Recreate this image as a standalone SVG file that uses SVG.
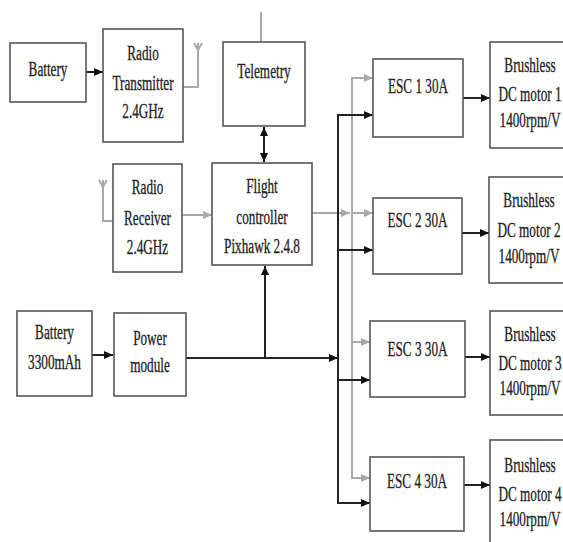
<svg xmlns="http://www.w3.org/2000/svg" width="563" height="542" viewBox="0 0 563 542">
<style>
.box{fill:#fff;stroke:#555;stroke-width:1.6}
.t{font-family:"Liberation Serif","Times New Roman",serif;font-size:20px;fill:#222;stroke:#222;stroke-width:0.3;text-anchor:middle}
.k{fill:none;stroke:#222;stroke-width:2}
.g{fill:none;stroke:#aaa;stroke-width:2}
</style>
<defs>
<marker id="ak" markerUnits="userSpaceOnUse" markerWidth="9" markerHeight="8" refX="9" refY="4" orient="auto-start-reverse"><path d="M0,0 L9,4 L0,8 z" fill="#111"/></marker>
<marker id="ag" markerUnits="userSpaceOnUse" markerWidth="9" markerHeight="8" refX="9" refY="4" orient="auto"><path d="M0,0 L9,4 L0,8 z" fill="#aaa"/></marker>
</defs>
<rect width="563" height="542" fill="#fff"/>
<g id="connectors">
<line class="k" x1="86" y1="72" x2="103" y2="72" marker-end="url(#ak)"/>
<path class="g" d="M183,87 H198 V43 M194,43 L198,50 L202,43" stroke-width="1.5"/>
<line class="g" x1="261" y1="12" x2="261" y2="42" stroke-width="1.5"/>
<line class="k" x1="264" y1="127" x2="264" y2="162" marker-start="url(#ak)" marker-end="url(#ak)"/>
<path class="g" d="M113,221 H103 V180 M99,180 L103,187 L107,180" stroke-width="1.5"/>
<line class="g" x1="182" y1="215" x2="212" y2="215" marker-end="url(#ag)"/>
<line class="g" x1="312" y1="213" x2="350" y2="213" marker-end="url(#ag)"/>
<path class="g" d="M373,78 H352 V478 H370"/>
<line class="g" x1="352" y1="213" x2="373" y2="213" marker-end="url(#ag)"/>
<line class="g" x1="352" y1="342" x2="370" y2="342" marker-end="url(#ag)"/>
<path class="g" d="M360,78 H373" marker-end="url(#ag)"/>
<path class="g" d="M360,478 H370" marker-end="url(#ag)"/>
<line class="k" x1="92" y1="355" x2="113" y2="355" marker-end="url(#ak)"/>
<line class="k" x1="186" y1="358" x2="338" y2="358" marker-end="url(#ak)"/>
<line class="k" x1="265" y1="358" x2="265" y2="266" stroke-width="1.6" marker-end="url(#ak)"/>
<path class="k" d="M373,115 H338 V503 H370" stroke-width="2.4"/>
<path class="k" d="M350,115 H373" marker-end="url(#ak)"/>
<line class="k" x1="338" y1="250" x2="373" y2="250" marker-end="url(#ak)"/>
<line class="k" x1="338" y1="380" x2="370" y2="380" marker-end="url(#ak)"/>
<path class="k" d="M350,503 H370" marker-end="url(#ak)"/>
<line class="k" x1="463" y1="98" x2="490" y2="98" marker-end="url(#ak)"/>
<line class="k" x1="462" y1="233" x2="489" y2="233" marker-end="url(#ak)"/>
<line class="k" x1="465" y1="357" x2="490" y2="357" marker-end="url(#ak)"/>
<line class="k" x1="464" y1="485" x2="490" y2="485" marker-end="url(#ak)"/>
</g>
<g id="battery">
<rect class="box" x="10" y="43" width="76" height="59"/>
<text class="t" transform="matrix(0.66 0 0 1 48 76)">Battery</text>
</g>
<g id="radio-transmitter">
<rect class="box" x="103" y="29" width="80" height="113"/>
<text class="t" transform="matrix(0.66 0 0 1 143 60)">Radio</text>
<text class="t" transform="matrix(0.66 0 0 1 143 90)">Transmitter</text>
<text class="t" transform="matrix(0.66 0 0 1 143 118)">2.4GHz</text>
</g>
<g id="telemetry">
<rect class="box" x="223" y="42" width="82" height="84"/>
<text class="t" transform="matrix(0.66 0 0 1 264 78)">Telemetry</text>
</g>
<g id="radio-receiver">
<rect class="box" x="113" y="164" width="69" height="108"/>
<text class="t" transform="matrix(0.66 0 0 1 147.5 194)">Radio</text>
<text class="t" transform="matrix(0.66 0 0 1 147.5 225)">Receiver</text>
<text class="t" transform="matrix(0.66 0 0 1 147.5 254)">2.4GHz</text>
</g>
<g id="flight-controller">
<rect class="box" x="212" y="163" width="100" height="102"/>
<text class="t" transform="matrix(0.66 0 0 1 262 193)">Flight</text>
<text class="t" transform="matrix(0.66 0 0 1 262 224)">controller</text>
<text class="t" transform="matrix(0.66 0 0 1 262 253)">Pixhawk 2.4.8</text>
</g>
<g id="battery-3300">
<rect class="box" x="17" y="311" width="75" height="85"/>
<text class="t" transform="matrix(0.66 0 0 1 54.5 339)">Battery</text>
<text class="t" transform="matrix(0.66 0 0 1 54.5 369)">3300mAh</text>
</g>
<g id="power-module">
<rect class="box" x="114" y="313" width="72" height="83"/>
<text class="t" transform="matrix(0.66 0 0 1 150 345)">Power</text>
<text class="t" transform="matrix(0.66 0 0 1 150 372)">module</text>
</g>
<g id="esc1">
<rect class="box" x="373" y="59" width="90" height="78"/>
<text class="t" transform="matrix(0.66 0 0 1 418 93)">ESC 1 30A</text>
</g>
<g id="esc2">
<rect class="box" x="373" y="198" width="89" height="76"/>
<text class="t" transform="matrix(0.66 0 0 1 417.5 227)">ESC 2 30A</text>
</g>
<g id="esc3">
<rect class="box" x="370" y="321" width="95" height="76"/>
<text class="t" transform="matrix(0.66 0 0 1 417.5 356)">ESC 3 30A</text>
</g>
<g id="esc4">
<rect class="box" x="370" y="457" width="94" height="74"/>
<text class="t" transform="matrix(0.66 0 0 1 417 488)">ESC 4 30A</text>
</g>
<g id="motor1">
<rect class="box" x="490" y="42" width="90" height="106"/>
<text class="t" transform="matrix(0.66 0 0 1 530 72)">Brushless</text>
<text class="t" transform="matrix(0.66 0 0 1 530 101)">DC motor 1</text>
<text class="t" transform="matrix(0.66 0 0 1 530 127)">1400rpm/V</text>
</g>
<g id="motor2">
<rect class="box" x="489" y="177" width="90" height="106"/>
<text class="t" transform="matrix(0.66 0 0 1 529 207)">Brushless</text>
<text class="t" transform="matrix(0.66 0 0 1 529 237)">DC motor 2</text>
<text class="t" transform="matrix(0.66 0 0 1 529 263)">1400rpm/V</text>
</g>
<g id="motor3">
<rect class="box" x="490" y="311" width="90" height="104"/>
<text class="t" transform="matrix(0.66 0 0 1 530 341)">Brushless</text>
<text class="t" transform="matrix(0.66 0 0 1 530 370)">DC motor 3</text>
<text class="t" transform="matrix(0.66 0 0 1 530 395)">1400rpm/V</text>
</g>
<g id="motor4">
<rect class="box" x="490" y="440" width="90" height="110"/>
<text class="t" transform="matrix(0.66 0 0 1 530 472)">Brushless</text>
<text class="t" transform="matrix(0.66 0 0 1 530 501)">DC motor 4</text>
<text class="t" transform="matrix(0.66 0 0 1 530 526)">1400rpm/V</text>
</g>
</svg>
